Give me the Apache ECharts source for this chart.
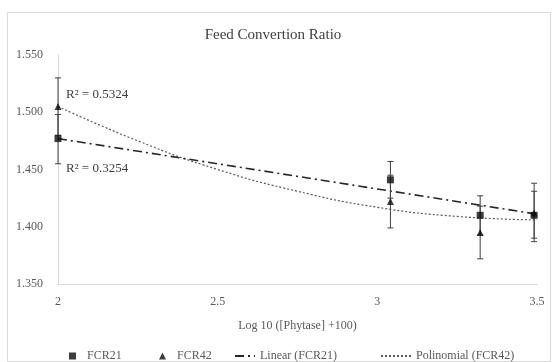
<!DOCTYPE html>
<html>
<head>
<meta charset="utf-8">
<script src="https://cdn.jsdelivr.net/npm/echarts@6/dist/echarts.min.js"></script>
<style>
  html, body { margin: 0; padding: 0; background: #fff; }
  #chart { width: 552px; height: 362px; }
</style>
</head>
<body>
<div id="chart"></div>
<script>
// log10([Phytase] + 100) for 0, 1000, 2000, 3000
const xVals = [2, 3.041, 3.322, 3.491]
const fcr21 = [1.477, 1.441, 1.410, 1.410]
const fcr42 = [1.505, 1.422, 1.395, 1.412]
const fcr21Low = [1.455, 1.425, 1.393, 1.390]
const fcr21High = [1.498, 1.457, 1.427, 1.431]
const fcr42Low = [1.480, 1.399, 1.372, 1.387]
const fcr42High = [1.530, 1.445, 1.418, 1.438]

// trend lines
const linX = [2, 3.5]
const linY = [1.477, 1.411]
const polyX = [2, 2.25, 2.5, 2.75, 3, 3.25, 3.5]
const polyY = [1.505, 1.475, 1.450, 1.431, 1.417, 1.409, 1.406]

const r2Labels = ['R² = 0.5324', 'R² = 0.3254']

const font = '"Liberation Serif", "DejaVu Serif", serif'
const textColor = '#595959'

const zip = (a, b) => a.map((v, i) => [v, b[i]])
const errData = (lo, hi) => xVals.map((x, i) => [x, lo[i], hi[i]])

const renderErr = (params, api) => {
  const x = api.value(0)
  const lo = api.coord([x, api.value(1)])
  const hi = api.coord([x, api.value(2)])
  const style = { stroke: '#404040', lineWidth: 1 }
  return {
    type: 'group',
    children: [
      { type: 'line', shape: { x1: lo[0], y1: lo[1], x2: hi[0], y2: hi[1] }, style },
      { type: 'line', shape: { x1: lo[0] - 3, y1: lo[1], x2: lo[0] + 3, y2: lo[1] }, style },
      { type: 'line', shape: { x1: hi[0] - 3, y1: hi[1], x2: hi[0] + 3, y2: hi[1] }, style }
    ]
  }
}

const legendText = { color: textColor, fontFamily: font, fontSize: 12 }

const chart = echarts.init(document.getElementById('chart'))
chart.setOption({
  backgroundColor: '#fff',
  animation: false,
  title: {
    text: 'Feed Convertion Ratio',
    left: 268,
    top: 23,
    textAlign: 'center',
    textStyle: { color: '#404040', fontFamily: font, fontSize: 15, fontWeight: 'normal' }
  },
  graphic: [{
    type: 'rect',
    shape: { x: 7.5, y: 12.5, width: 543, height: 349 },
    style: { fill: 'none', stroke: '#d9d9d9', lineWidth: 1 },
    silent: true
  }],
  legend: [
    { data: ['FCR21'], left: 64, top: 345, itemWidth: 7, itemHeight: 7, formatter: '  {name}', textStyle: legendText },
    { data: ['FCR42'], left: 154, top: 345, itemWidth: 7, itemHeight: 7, formatter: '  {name}', textStyle: legendText },
    {
      data: ['Linear (FCR21)'], left: 229, top: 345, itemWidth: 20, itemHeight: 8,
      itemStyle: { opacity: 0 }, textStyle: legendText
    },
    {
      data: ['Polinomial (FCR42)'], left: 375, top: 345, itemWidth: 30, itemHeight: 8,
      itemStyle: { opacity: 0 }, textStyle: legendText
    }
  ],
  grid: { left: 58, right: 15, top: 55, bottom: 78 },
  xAxis: {
    type: 'value',
    min: 2,
    max: 3.5,
    interval: 0.5,
    name: 'Log 10 ([Phytase] +100)',
    nameLocation: 'middle',
    nameGap: 36,
    nameTextStyle: { color: textColor, fontFamily: font, fontSize: 12 },
    axisLine: { lineStyle: { color: '#d9d9d9' } },
    axisTick: { show: false },
    splitLine: { show: false },
    axisLabel: { color: textColor, fontFamily: font, fontSize: 12, margin: 12 }
  },
  yAxis: {
    type: 'value',
    min: 1.35,
    max: 1.55,
    interval: 0.05,
    axisLine: { show: true, lineStyle: { color: '#d9d9d9' } },
    axisTick: { show: false },
    splitLine: { show: false },
    axisLabel: {
      color: textColor, fontFamily: font, fontSize: 12, margin: 15,
      formatter: v => v.toFixed(3)
    }
  },
  series: [
    {
      name: 'Polinomial (FCR42)',
      type: 'line',
      data: zip(polyX, polyY),
      smooth: true,
      symbol: 'none',
      lineStyle: { color: '#595959', width: 1.2, type: [2, 2] },
      itemStyle: { color: '#595959' },
      z: 2,
      markPoint: {
        symbol: 'circle',
        symbolSize: 0,
        label: {
          show: true, position: 'right', distance: 0,
          color: '#404040', fontFamily: font, fontSize: 13,
          formatter: p => p.name
        },
        data: [
          { name: r2Labels[0], coord: [2.025, 1.515] },
          { name: r2Labels[1], coord: [2.025, 1.451] }
        ]
      }
    },
    {
      name: 'Linear (FCR21)',
      type: 'line',
      data: zip(linX, linY),
      symbol: 'none',
      lineStyle: { color: '#262626', width: 1.6, type: [9, 4, 2, 4] },
      itemStyle: { color: '#262626' },
      z: 2
    },
    {
      name: 'err21',
      type: 'custom',
      data: errData(fcr21Low, fcr21High),
      encode: { x: 0, y: [1, 2] },
      renderItem: renderErr,
      z: 3
    },
    {
      name: 'err42',
      type: 'custom',
      data: errData(fcr42Low, fcr42High),
      encode: { x: 0, y: [1, 2] },
      renderItem: renderErr,
      z: 3
    },
    {
      name: 'FCR21',
      type: 'scatter',
      data: zip(xVals, fcr21),
      symbol: 'rect',
      symbolSize: 7,
      itemStyle: { color: '#0d0d0d' },
      z: 4
    },
    {
      name: 'FCR42',
      type: 'scatter',
      data: zip(xVals, fcr42),
      symbol: 'triangle',
      symbolSize: 7,
      itemStyle: { color: '#0d0d0d' },
      z: 4
    }
  ]
})
</script>
</body>
</html>
